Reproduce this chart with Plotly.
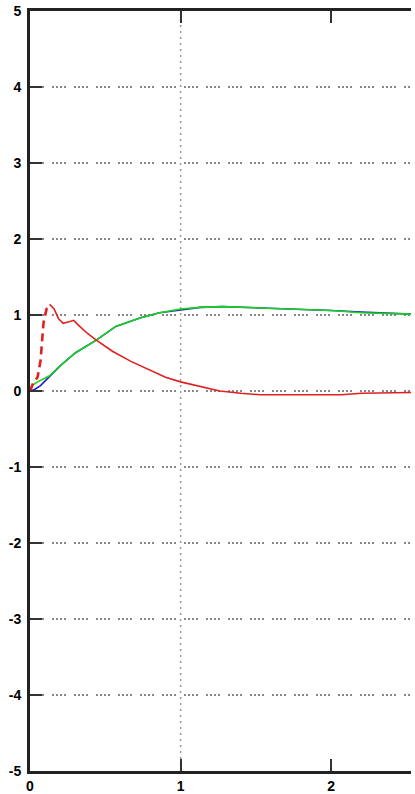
import plotly.graph_objects as go

# ---- data ----
blue_t = [0, 0.03, 0.07, 0.13, 0.20, 0.30, 0.44, 0.57, 0.73, 0.86, 1.00, 1.13, 1.28, 1.45, 1.63, 1.80, 2.00, 2.20, 2.40, 2.55]
blue_y = [0, 0.02, 0.07, 0.19, 0.33, 0.50, 0.67, 0.85, 0.96, 1.03, 1.07, 1.10, 1.11, 1.10, 1.09, 1.08, 1.06, 1.04, 1.02, 1.01]

green_t = [0, 0.02, 0.05, 0.08, 0.13, 0.20, 0.30, 0.44, 0.57, 0.73, 0.86, 1.00, 1.13, 1.28, 1.45, 1.63, 1.80, 2.00, 2.20, 2.40, 2.55]
green_y = [0, 0.08, 0.12, 0.15, 0.20, 0.33, 0.50, 0.67, 0.85, 0.96, 1.03, 1.08, 1.10, 1.11, 1.10, 1.09, 1.08, 1.06, 1.03, 1.02, 1.01]

red_dash_t = [0, 0.02, 0.05, 0.07, 0.08, 0.09, 0.11, 0.13]
red_dash_y = [0, 0.10, 0.18, 0.40, 0.65, 0.90, 1.08, 1.14]

red_t = [0.13, 0.16, 0.19, 0.22, 0.26, 0.29, 0.33, 0.38, 0.44, 0.55, 0.67, 0.79, 0.90, 1.00, 1.13, 1.26, 1.40, 1.53, 1.80, 2.07, 2.20, 2.55]
red_y = [1.14, 1.08, 0.95, 0.89, 0.91, 0.93, 0.85, 0.76, 0.67, 0.52, 0.39, 0.28, 0.18, 0.12, 0.06, 0.00, -0.03, -0.05, -0.05, -0.05, -0.03, -0.02]

x_ticks = [0, 1, 2]
x_tick_labels = ["0", "1", "2"]
y_ticks = [-5, -4, -3, -2, -1, 0, 1, 2, 3, 4, 5]
y_tick_labels = [str(v) for v in y_ticks]

fig = go.Figure()
fig.add_trace(go.Scatter(x=blue_t, y=blue_y, mode="lines",
                         line=dict(color="#1f1fd0", width=1.6)))
fig.add_trace(go.Scatter(x=green_t, y=green_y, mode="lines",
                         line=dict(color="#19d419", width=1.6)))
fig.add_trace(go.Scatter(x=red_dash_t, y=red_dash_y, mode="lines",
                         line=dict(color="#e02020", width=2.6, dash="8px,5px")))
fig.add_trace(go.Scatter(x=red_t, y=red_y, mode="lines",
                         line=dict(color="#e02020", width=1.6)))

# vertical grid line at x=1 only
fig.add_vline(x=1, line=dict(color="#999999", width=1.5, dash="2px,4px"), layer="below")

fig.update_layout(
    width=415, height=794,
    margin=dict(l=30, r=4, t=11, b=23),
    paper_bgcolor="white", plot_bgcolor="white",
    showlegend=False,
    font=dict(family="Liberation Sans, Arial, sans-serif", size=14, color="black"),
)
fig.update_xaxes(
    range=[0, 2.53], tickvals=x_ticks, ticktext=x_tick_labels,
    showgrid=False, zeroline=False, automargin=False,
    showline=True, linecolor="#222222", linewidth=2.5, mirror="ticks",
    ticks="inside", ticklen=12, tickwidth=1.5, tickcolor="#333333",
    tickfont=dict(family="Liberation Sans, Arial, sans-serif", size=14, weight="bold", color="black"),
    ticklabelstandoff=0,
)
fig.update_yaxes(
    range=[-5, 5], tickvals=y_ticks, ticktext=y_tick_labels,
    showgrid=True, gridcolor="#888888", gridwidth=1.5, griddash="2px,2px,2px,2px,2px,2px,2px,8px",
    zeroline=False, automargin=False,
    showline=True, linecolor="#222222", linewidth=3,
    ticks="inside", ticklen=12, tickwidth=1.5, tickcolor="#333333",
    tickfont=dict(family="Liberation Sans, Arial, sans-serif", size=14, weight="bold", color="black"),
    ticklabelstandoff=3,
)

fig.write_html("out.html", config={"displayModeBar": False},
               post_script="document.body.style.margin='0';")
